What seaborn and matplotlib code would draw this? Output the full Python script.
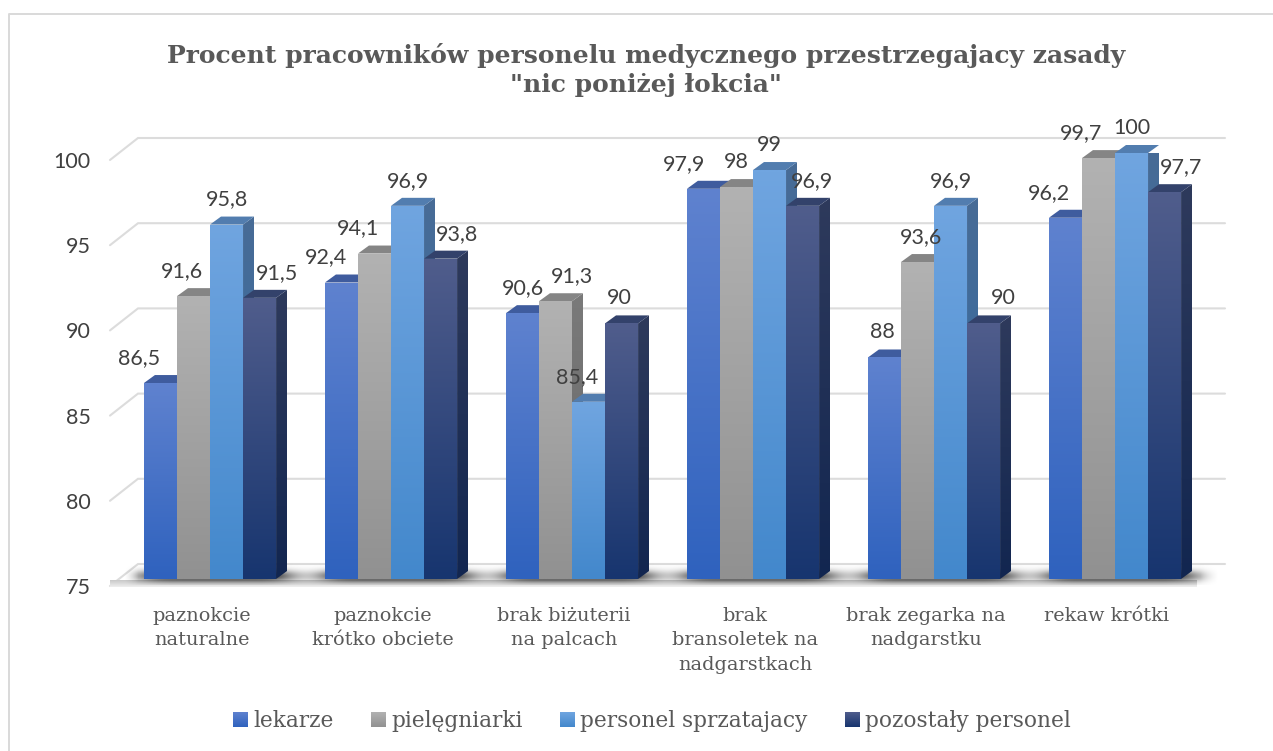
import numpy as np
import pandas as pd
import matplotlib
matplotlib.use("Agg")
import matplotlib.pyplot as plt
import matplotlib.colors as mc
from matplotlib.patches import Polygon
from matplotlib.transforms import Affine2D
import seaborn as sns

# ---------- data ----------
categories = ["paznokcie\nnaturalne", "paznokcie\nkrótko obciete", "brak biżuterii\nna palcach",
              "brak\nbransoletek na\nnadgarstkach", "brak zegarka na\nnadgarstku", "rekaw krótki"]
series_names = ["lekarze", "pielęgniarki", "personel sprzatajacy", "pozostały personel"]
lekarze = [86.5, 92.4, 90.6, 97.9, 88, 96.2]
pielegniarki = [91.6, 94.1, 91.3, 98, 93.6, 99.7]
sprzatajacy = [95.8, 96.9, 85.4, 99, 96.9, 100]
pozostaly = [91.5, 93.8, 90, 96.9, 90, 97.7]
y_ticks = [75, 80, 85, 90, 95, 100]
title = 'Procent pracowników personelu medycznego przestrzegajacy zasady\n"nic poniżej łokcia"'

# ---------- style ----------
front_top = ["#5F82CF", "#B2B2B2", "#70A5E0", "#505D8C"]
front_bot = ["#2F62BE", "#919191", "#4388CC", "#17356F"]
side_top = ["#3D5A9B", "#7A7A7A", "#486C96", "#2E3A5C"]
side_bot = ["#24488E", "#666666", "#2F6AA6", "#122650"]
top_col = ["#3F5C9E", "#858585", "#527DAF", "#33426B"]
# pixel nudges of the data labels, per series and category
nudge = [[-21, -15, 0, -19, -2, -17],
         [-12, -16, 17, 0, 4, -17],
         [0, 0, -11, 0, 0, 0],
         [17, 16, -2, 9, 20, 17]]
W, H = 1273, 751
SERIF = "DejaVu Serif"
SANS = "Lato"
GREY = "#595959"
DARK = "#404040"

sns.set_theme(style="white")
plt.rcParams["font.family"] = [SANS, "DejaVu Sans"]

fig = plt.figure(figsize=(W / 100, H / 100), dpi=100, facecolor="white")
ax = fig.add_axes([110 / W, (H - 579) / H, (1225 - 110) / W, (579 - 153) / H])
ax.patch.set_alpha(0)

df = pd.DataFrame({"category": categories * 4,
                   "series": [s for s in series_names for _ in categories],
                   "value": lekarze + pielegniarki + sprzatajacy + pozostaly})
sns.barplot(data=df, x="category", y="value", hue="series", order=categories,
            hue_order=series_names, palette=front_top, width=0.73, ax=ax,
            saturation=1, errorbar=None, linewidth=0)
xlim = (-100 / 181, 1015 / 181)
ylim = (75, 100)
ax.set_xlim(xlim)
ax.set_ylim(ylim)
ax.set_xlabel("")
ax.set_ylabel("")
for s in ax.spines.values():
    s.set_visible(False)

# pixel -> data scale factors
PX = (xlim[1] - xlim[0]) / (1225 - 110)
PY = (ylim[1] - ylim[0]) / (579 - 153)


def grad(c1, c2, n=128):
    a, b = np.array(mc.to_rgb(c1)), np.array(mc.to_rgb(c2))
    t = np.linspace(0, 1, n)[:, None]
    return (a * (1 - t) + b * t)[:, None, :]


def grad_poly(verts, c1, c2, z):
    verts = np.array(verts)
    poly = Polygon(verts, closed=True, facecolor="none", edgecolor="none",
                   transform=ax.transData)
    ax.add_patch(poly)
    im = ax.imshow(grad(c1, c2), extent=(verts[:, 0].min(), verts[:, 0].max(),
                                         verts[:, 1].min(), verts[:, 1].max()),
                   aspect="auto", origin="upper", zorder=z, interpolation="bilinear")
    im.set_clip_path(poly)
    return im


# ---------- back wall, floor ----------
wx, wy = 28 * PX, 15 * PY
fy = 7 * PY
xr = xlim[1]
for v in y_ticks:
    ax.plot([xlim[0], xlim[0] + wx, xr], [v - fy, v + wy, v + wy], color="#DCDCDC", lw=1.5,
            clip_on=False, zorder=1, solid_joinstyle="miter")
# floor front band
grad_poly([(xlim[0], 75 - 1 * PY), (xr - 28 * PX, 75 - 1 * PY),
           (xr - 28 * PX, 75 - 8 * PY), (xlim[0], 75 - 8 * PY)],
          "#C8C8C8", "#EFEFEF", 1.5).set_clip_on(False)

# shadow under the bars
bars_all = [p for c in ax.containers for p in c.patches]
xs = np.linspace(xlim[0] + 14 * PX, xr - 6 * PX, 1100)
ys_px = np.linspace(-16, 6, 50)
cover = np.zeros_like(xs)
for p in bars_all:
    cover[(xs >= p.get_x()) & (xs <= p.get_x() + p.get_width() + 11 * PX)] = 1
kernel = np.exp(-0.5 * (np.arange(-60, 61) / 14.0) ** 2)
kernel /= kernel.sum()
cover = np.convolve(cover, kernel, mode="same")
vert = np.exp(-0.5 * ((ys_px + 3) / 4.2) ** 2)
alpha = 0.85 * np.outer(vert, 0.12 + 0.88 * cover)
edge = np.clip((xs[-1] - xs) / (18 * PX), 0, 1) * np.clip((xs - xs[0]) / (14 * PX), 0, 1)
alpha = alpha * edge
rgba = np.zeros(alpha.shape + (4,))
rgba[..., 3] = alpha
ax.imshow(rgba, extent=(xs[0], xs[-1], 75 - 6 * PY, 75 + 16 * PY), aspect="auto", origin="upper",
          zorder=2, clip_on=False, interpolation="bilinear")

# ---------- 3D bars ----------
dx, dy = 11 * PX, 8 * PY
for h, cont in enumerate(ax.containers):
    z = 3 + h
    for i, p in enumerate(cont.patches):
        x0, w, v = p.get_x(), p.get_width(), p.get_height()
        x1 = x0 + w
        grad_poly([(x1, 75), (x1 + dx, 75 + dy), (x1 + dx, v + dy), (x1, v)],
                  side_top[h], side_bot[h], z + 0.1)
        ax.add_patch(Polygon([(x0, v), (x0 + dx, v + dy), (x1 + dx, v + dy), (x1, v)],
                             facecolor=top_col[h], edgecolor="none", zorder=z + 0.2, clip_on=False))
        p.set_zorder(z + 0.3)
        grad_poly([(x0, 75), (x1, 75), (x1, v), (x0, v)], front_top[h], front_bot[h], z + 0.4)
        ax.annotate(f"{v:g}".replace(".", ","), (x0 + w / 2, v),
                    xytext=(nudge[h][i], 25), textcoords="offset pixels", ha="center", va="center",
                    fontsize=15.5, color=DARK, zorder=20, annotation_clip=False,
                    family=[SANS, "DejaVu Sans"])

# ---------- axes text ----------
ax.set_yticks(y_ticks)
ax.set_yticklabels([str(v) for v in y_ticks], fontsize=15.5, color=DARK, family=SANS)
ax.tick_params(axis="y", length=0, pad=14)
for lab in ax.get_yticklabels():
    lab.set_transform(lab.get_transform() + Affine2D().translate(0, -7))
ax.set_xticks(range(len(categories)))
ax.set_xticklabels(categories, fontsize=13.9, color=GREY, family=SERIF, linespacing=1.47)
ax.tick_params(axis="x", length=0, pad=20)
for lab in ax.get_xticklabels():
    lab.set_transform(lab.get_transform() + Affine2D().translate(-8, 0))

fig.suptitle(title, x=646 / W, y=1 - 70 / H, va="center", ha="center", fontsize=18,
             fontweight="bold", color=GREY, family=SERIF, linespacing=1.28)

# ---------- legend ----------
sns.move_legend(ax, loc="center", bbox_to_anchor=(652 / W, 1 - 721 / H),
                bbox_transform=fig.transFigure, ncol=4, frameon=False, title=None,
                prop={"family": SERIF, "size": 15.6}, labelcolor=GREY,
                handlelength=0.65, handleheight=0.65, handletextpad=0.3, columnspacing=1.7,
                borderpad=0)

# ---------- chart frame: left and top lines only ----------
fig.add_artist(plt.Line2D([8.5 / W, 8.5 / W, 1], [0, 1 - 13.5 / H, 1 - 13.5 / H],
                          color="#D9D9D9", lw=1.4, transform=fig.transFigure))

ax.set_xlim(xlim)
ax.set_ylim(ylim)

# gradient on legend keys
fig.canvas.draw()
inv = ax.transData.inverted()
leg = ax.get_legend()
for h, handle in enumerate(leg.get_patches()):
    bb = handle.get_window_extent().transformed(inv)
    im = ax.imshow(grad(front_top[h], front_bot[h]), extent=(bb.x0, bb.x1, bb.y0, bb.y1),
                   aspect="auto", origin="upper", zorder=30, clip_on=False)
ax.set_xlim(xlim)
ax.set_ylim(ylim)

fig.savefig("out.png", dpi=100, facecolor="white")
